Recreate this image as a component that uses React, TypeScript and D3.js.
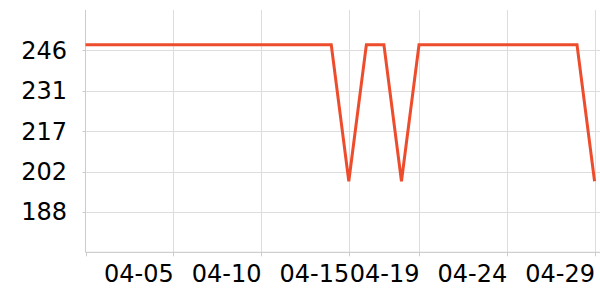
import React from "react";
import * as d3 from "d3";

const startDate = "2024-03-31";
const values: number[] = [
  248, 248, 248, 248, 248, 248, 248, 248, 248, 248,
  248, 248, 248, 248, 248, 199, 248, 248, 199, 248,
  248, 248, 248, 248, 248, 248, 248, 248, 248, 199,
];
const xTickLabels: string[] = ["04-05", "04-10", "04-15", "04-19", "04-24", "04-29"];
const yTickValues: number[] = [188, 202.5, 217, 231.5, 246];
const yTickLabels: string[] = ["188", "202", "217", "231", "246"];

const W = 600;
const H = 300;
const left = 85.5;
const right = 600;
const top = 10;
const bottom = 252.3;
const DAY = 86400000;
const FONT = "DejaVu Sans";
const FS = 24;

export default function App() {
  const t0 = new Date(startDate + "T00:00:00").getTime();
  const dates = values.map((_, i) => new Date(t0 + i * DAY));
  const lastT = t0 + (values.length - 1) * DAY;
  const x = d3
    .scaleTime()
    .domain([new Date(t0), new Date(lastT + 0.31 * DAY)])
    .range([left, right]);
  const y = d3.scaleLinear().domain([173.5, 260.5]).range([bottom, top]);

  const xTicks = xTickLabels.map((l) => new Date(`2024-${l}T00:00:00`));
  const line = d3
    .line<number>()
    .x((_, i) => x(dates[i]))
    .y((d) => y(d));

  return (
    <svg
      width={W}
      height={H}
      style={{ position: "absolute", left: 0, top: 0, background: "#fff" }}
    >
      {yTickValues.map((v, i) => (
        <line
          key={"hg" + i}
          x1={left}
          x2={right}
          y1={Math.round(y(v)) + 0.5}
          y2={Math.round(y(v)) + 0.5}
          stroke="#dddddd"
          strokeWidth={1}
        />
      ))}
      {xTicks.map((d, i) => (
        <line
          key={"vg" + i}
          x1={Math.round(x(d)) + 0.5}
          x2={Math.round(x(d)) + 0.5}
          y1={top}
          y2={bottom}
          stroke="#dddddd"
          strokeWidth={1}
        />
      ))}
      <line x1={left} x2={left} y1={top} y2={bottom} stroke="#cccccc" strokeWidth={1} />
      <line x1={left} x2={right} y1={bottom} y2={bottom} stroke="#c4c4c4" strokeWidth={1} />
      {yTickValues.map((v, i) => (
        <line
          key={"yt" + i}
          x1={left - 3}
          x2={left}
          y1={Math.round(y(v)) + 0.5}
          y2={Math.round(y(v)) + 0.5}
          stroke="#cccccc"
        />
      ))}
      {[new Date(t0), ...xTicks].map((d, i) => (
        <line
          key={"xt" + i}
          x1={Math.round(x(d)) + 0.5}
          x2={Math.round(x(d)) + 0.5}
          y1={bottom}
          y2={bottom + 4}
          stroke="#cccccc"
        />
      ))}
      {yTickValues.map((v, i) => (
        <text
          key={"yl" + i}
          x={67}
          y={y(v) + 8.5}
          textAnchor="end"
          fontFamily={FONT}
          fontSize={FS}
          fill="#000"
        >
          {yTickLabels[i]}
        </text>
      ))}
      {xTicks.map((d, i) => (
        <text
          key={"xl" + i}
          x={x(d) + 0.5}
          y={282}
          textAnchor="end"
          fontFamily={FONT}
          fontSize={FS}
          fill="#000"
        >
          {xTickLabels[i]}
        </text>
      ))}
      <path d={line(values) || ""} fill="none" stroke="#ee4d2d" strokeWidth={3} />
    </svg>
  );
}
